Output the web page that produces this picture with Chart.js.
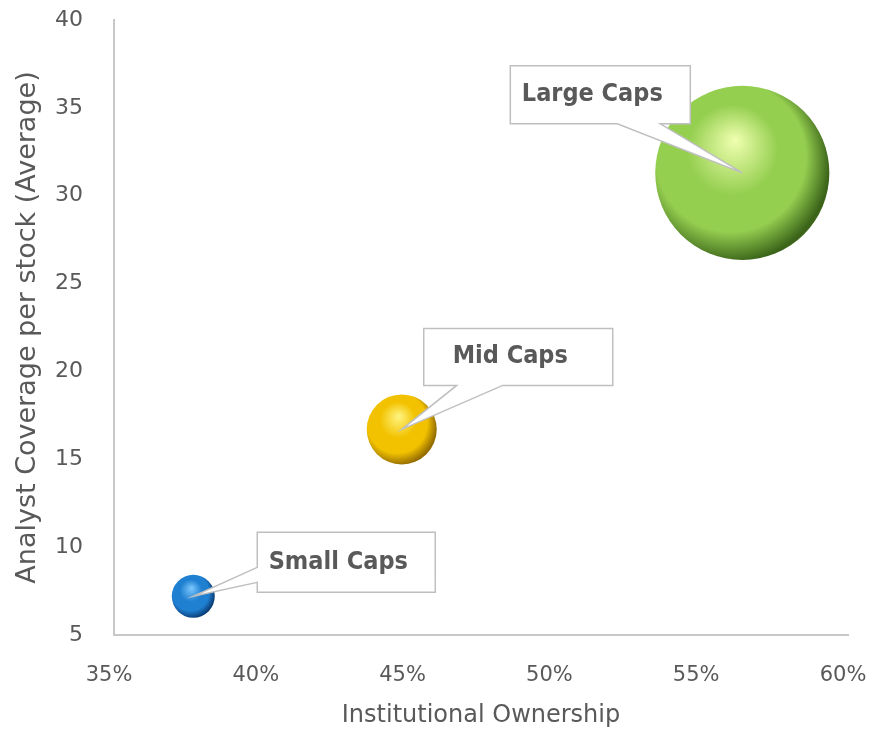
<!DOCTYPE html>
<html>
<head>
<meta charset="utf-8">
<script src="https://cdn.jsdelivr.net/npm/chart.js@4.4.1/dist/chart.umd.min.js"></script>
<style>
  html, body { margin: 0; padding: 0; background: #fff; }
  #wrap { width: 872px; height: 732px; }
</style>
</head>
<body>
<div id="wrap"><canvas id="chart"></canvas></div>
<script>
// data
const categories = ['Small Caps', 'Mid Caps', 'Large Caps'];
const ownershipPct = [37.7, 44.8, 56.4];      // Institutional Ownership (%)
const analystCoverage = [7.2, 16.7, 31.3];    // Analyst Coverage per stock (Average)
const bubbleSize = [1.0, 2.65, 16.4];         // relative bubble size (area)
const xTicks = [35, 40, 45, 50, 55, 60];
const yTicks = [5, 10, 15, 20, 25, 30, 35, 40];

const textColor = '#595959';
const FONT = "'DejaVu Sans', Roboto, sans-serif";
const LABEL_FONT = "'DejaVu Sans Condensed', 'DejaVu Sans', Roboto, sans-serif";

// sphere shading per bubble: highlight, body, edge
const shades = [
    ['#7cc8ff', '#1f7fd0', '#0a3c74'],
    ['#fff582', '#f2c200', '#946c00'],
    ['#f0ffb0', '#95cf50', '#3c651a']
];

// callout boxes, offsets from the bubble centre
const callouts = [
    { dx: 64, dy: -64, w: 178, h: 60, side: 'left', b1: 35, b2: 50 },
    { dx: 22, dy: -101, w: 189, h: 57, side: 'bottom', b1: 33, b2: 79 },
    { dx: -232, dy: -107, w: 180, h: 58, side: 'bottom', b1: 107, b2: 150 }
];

const points = categories.map((c, i) => ({
    x: ownershipPct[i],
    y: analystCoverage[i],
    r: 21.5 * Math.sqrt(bubbleSize[i])
}));

function sphereFill(ctx) {
    const chart = ctx.chart;
    const sx = chart.scales.x, sy = chart.scales.y;
    const s = shades[ctx.dataIndex] || shades[0];
    if (!sx || !sy || !ctx.raw) return s[1];
    const px = sx.getPixelForValue(ctx.raw.x);
    const py = sy.getPixelForValue(ctx.raw.y);
    const r = ctx.raw.r;
    if (!isFinite(px) || !isFinite(py)) return s[1];
    const g = chart.ctx.createRadialGradient(px - r * 0.08, py - r * 0.38, 0, px - r * 0.15, py - r * 0.12, r * 1.15);
    g.addColorStop(0, s[0]);
    g.addColorStop(0.45, s[1]);
    g.addColorStop(0.75, s[1]);
    g.addColorStop(1, s[2]);
    return g;
}

const calloutPlugin = {
    id: 'callouts',
    afterDatasetsDraw(chart) {
        const ctx = chart.ctx;
        const meta = chart.getDatasetMeta(0);
        meta.data.forEach((el, i) => {
            const c = callouts[i];
            const tx = el.x, ty = el.y;
            const L = tx + c.dx, T = ty + c.dy, R = L + c.w, B = T + c.h;
            ctx.save();
            ctx.beginPath();
            ctx.moveTo(L, T);
            ctx.lineTo(R, T);
            ctx.lineTo(R, B);
            if (c.side === 'bottom') {
                ctx.lineTo(L + c.b2, B);
                ctx.lineTo(tx, ty);
                ctx.lineTo(L + c.b1, B);
                ctx.lineTo(L, B);
            } else {
                ctx.lineTo(L, B);
                ctx.lineTo(L, T + c.b2);
                ctx.lineTo(tx, ty);
                ctx.lineTo(L, T + c.b1);
            }
            ctx.closePath();
            ctx.fillStyle = '#ffffff';
            ctx.fill();
            ctx.strokeStyle = '#bfbfbf';
            ctx.lineWidth = 1.5;
            ctx.stroke();
            ctx.fillStyle = textColor;
            ctx.font = 'bold 25px ' + LABEL_FONT;
            ctx.textAlign = 'center';
            ctx.textBaseline = 'middle';
            ctx.fillText(categories[i], (L + R) / 2 - 8, (T + B) / 2);
            ctx.restore();
        });
    }
};

new Chart(document.getElementById('chart'), {
    type: 'bubble',
    data: {
        datasets: [{
            label: 'Coverage',
            data: points,
            backgroundColor: sphereFill,
            borderWidth: 0,
            hoverBorderWidth: 0,
            clip: false
        }]
    },
    options: {
        responsive: true,
        maintainAspectRatio: false,
        animation: false,
        events: [],
        layout: { autoPadding: false, padding: { top: 20, right: 24, left: 0, bottom: 0 } },
        plugins: {
            legend: { display: false },
            tooltip: { enabled: false }
        },
        scales: {
            x: {
                type: 'linear',
                min: 35, max: 60,
                afterFit: s => { s.height = 97; s.paddingLeft = 0; s.paddingRight = 0; },
                afterBuildTicks: s => { s.ticks = xTicks.map(v => ({ value: v })); },
                grid: { display: false, drawTicks: false },
                border: { display: true, color: '#c8c8c8', width: 2 },
                ticks: {
                    padding: 28,
                    labelOffset: -5,
                    color: textColor,
                    font: { family: FONT, size: 21 },
                    callback: v => v + '%'
                },
                title: {
                    display: true,
                    text: 'Institutional Ownership',
                    color: textColor,
                    font: { family: FONT, size: 24 },
                    padding: { top: 0, bottom: 2 }
                }
            },
            y: {
                type: 'linear',
                min: 5, max: 40,
                afterFit: s => { s.width = 114; s.paddingTop = 0; s.paddingBottom = 0; },
                afterBuildTicks: s => { s.ticks = yTicks.map(v => ({ value: v })); },
                grid: { display: false, drawTicks: false },
                border: { display: true, color: '#c8c8c8', width: 2 },
                ticks: {
                    padding: 31,
                    color: textColor,
                    font: { family: FONT, size: 22 }
                },
                title: {
                    display: true,
                    text: 'Analyst Coverage per stock (Average)',
                    color: textColor,
                    font: { family: FONT, size: 27 },
                    padding: { top: 12, bottom: 0 }
                }
            }
        }
    },
    plugins: [calloutPlugin]
});
</script>
</body>
</html>
